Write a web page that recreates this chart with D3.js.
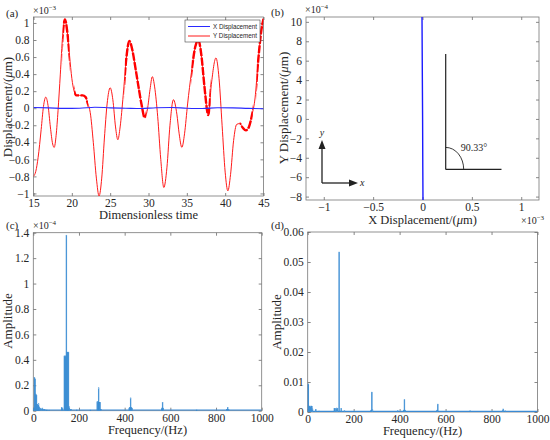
<!DOCTYPE html>
<html>
<head>
<meta charset="utf-8">
<script src="https://cdn.jsdelivr.net/npm/d3@7"></script>
<style>
  body { margin: 0; background: #fff; }
  svg { font-family: "Liberation Serif", "Times New Roman", serif; }
</style>
</head>
<body>
<div id="chart"></div>
<script>
// (a) time series, values in units of 1e-3 um
const timeY = [15.0, 15.3, 15.6, 16.0, 16.3, 16.6, 16.9, 17.2, 17.5, 17.7, 17.95, 18.2, 18.5, 18.8, 19.1, 19.4, 19.7, 20.0, 20.3, 20.6, 21.0, 21.4, 21.8, 22.1, 22.4, 22.8, 23.2, 23.55, 23.9, 24.25, 24.6, 25.0, 25.35, 25.7, 26.0, 26.3, 26.7, 27.1, 27.5, 27.9, 28.3, 28.7, 29.1, 29.5, 29.85, 30.2, 30.5, 30.8, 31.2, 31.6, 32.0, 32.4, 32.8, 33.25, 33.7, 34.0, 34.35, 34.7, 35.1, 35.6, 36.1, 36.5, 36.9, 37.3, 37.8, 38.2, 38.8, 39.2, 39.6, 40.0, 40.35, 40.7, 41.1, 41.5, 41.9, 42.3, 42.7, 43.1, 43.5, 43.9, 44.3, 44.7, 45.0];
const yDisp = [-0.80, -0.74, -0.58, -0.25, 0.02, 0.13, 0.03, -0.22, -0.42, -0.46, -0.32, -0.03, 0.40, 0.85, 1.04, 0.90, 0.62, 0.35, 0.20, 0.15, 0.15, 0.15, 0.13, 0.05, -0.05, -0.40, -0.82, -1.03, -0.82, -0.35, 0.05, 0.24, 0.10, -0.22, -0.37, -0.22, 0.15, 0.58, 0.79, 0.68, 0.47, 0.25, 0.04, -0.11, -0.02, 0.22, 0.37, 0.25, -0.10, -0.60, -0.93, -0.70, -0.20, 0.10, -0.07, -0.30, -0.46, -0.30, 0.05, 0.42, 0.72, 0.80, 0.62, 0.25, -0.08, 0.28, 0.59, 0.35, -0.20, -0.75, -0.97, -0.78, -0.38, -0.19, -0.18, -0.23, -0.26, -0.22, -0.08, 0.12, 0.55, 0.90, 1.05];
const timeX = [15, 17, 19, 21, 23, 25, 27, 29, 31, 33, 35, 37, 39, 41, 43, 45];
const xDisp = [0.008, 0.004, -0.002, 0.0, 0.012, 0.004, 0.0, -0.004, 0.006, 0.008, 0.0, -0.004, 0.006, 0.004, -0.002, -0.006];
// time spans where the Y trace carries a fine ripple (drawn thicker)
const rippleSpans = [[18.8, 19.7], [20.3, 22.1], [26.9, 29.7], [35.6, 38.1], [41.9, 43.6], [44.1, 45]];
const ticksTime = [15, 20, 25, 30, 35, 40, 45];
const ticksDisp = [-1, -0.8, -0.6, -0.4, -0.2, 0, 0.2, 0.4, 0.6, 0.8, 1];

// (b) orbit, x in 1e-3 um, y in 1e-4 um
const orbitX = [0.006, 0.003, 0.001, -0.002, -0.005];
const orbitY = [-10.3, -5, 0, 5, 10.5];
const ticksOrbitX = [-1, -0.5, 0, 0.5, 1];
const ticksOrbitY = [-8, -6, -4, -2, 0, 2, 4, 6, 8, 10];

// (c) spectrum of Y, amplitude in 1e-4
const freqC = [2, 5, 8, 11, 14, 17, 20, 23, 26, 30, 35, 40, 45, 50, 60, 70, 124, 128, 136, 139, 142, 145, 148, 151, 154, 158, 165, 190, 250, 280, 283, 286, 289, 292, 296, 420, 423, 426, 429, 432, 562, 566, 569, 715, 848, 851, 855];
const ampC = [0.02, 0.26, 0.25, 0.13, 0.12, 0.05, 0.045, 0.055, 0.03, 0.02, 0.015, 0.02, 0.01, 0.008, 0.005, 0.004, 0.025, 0.02, 0.43, 0.43, 0.43, 1.38, 0.46, 0.46, 0.46, 0.03, 0.01, 0.005, 0.004, 0.07, 0.07, 0.18, 0.065, 0.065, 0.01, 0.02, 0.025, 0.10, 0.025, 0.02, 0.02, 0.065, 0.02, 0.005, 0.01, 0.025, 0.008];
const ticksFreq = [0, 200, 400, 600, 800, 1000];
const ticksAmpC = [0, 0.2, 0.4, 0.6, 0.8, 1, 1.2, 1.4];

// (d) spectrum of X
const freqD = [1, 3, 6, 9, 12, 15, 18, 21, 35, 50, 116, 120, 126, 130, 137, 146, 160, 200, 276, 279, 282, 392, 419, 421, 424, 563, 566, 707, 848, 851, 860];
const ampD = [0.0093, 0.0093, 0.002, 0.0018, 0.0015, 0.002, 0.0019, 0.001, 0.0008, 0.0003, 0.0012, 0.0012, 0.0013, 0.0012, 0.0533, 0.0012, 0.0004, 0.0002, 0.0006, 0.0066, 0.0007, 0.0004, 0.0006, 0.0041, 0.0006, 0.0006, 0.0026, 0.0004, 0.0004, 0.001, 0.0004];
const ticksAmpD = [0, 0.01, 0.02, 0.03, 0.04, 0.05, 0.06];

const svg = d3.select("#chart").append("svg")
    .attr("width", 550)
    .attr("height", 440);

const fmt = d3.format("~g");
const ink = "#262626";
const serif = "Liberation Serif";

// box with inward ticks on all four sides, MATLAB style
function frame(x, y, xt, yt, id) {
    const [x0, x1] = x.range();
    const [y0, y1] = y.range();
    const g = svg.append("g");
    const axes = [
        g.append("g").attr("transform", `translate(0,${y0})`)
            .call(d3.axisBottom(x).tickValues(xt).tickFormat(fmt).tickSizeInner(-3).tickSizeOuter(0).tickPadding(3)),
        g.append("g").attr("transform", `translate(0,${y1})`)
            .call(d3.axisTop(x).tickValues(xt).tickFormat("").tickSizeInner(-3).tickSizeOuter(0)),
        g.append("g").attr("transform", `translate(${x0},0)`)
            .call(d3.axisLeft(y).tickValues(yt).tickFormat(fmt).tickSizeInner(-3).tickSizeOuter(0).tickPadding(4)),
        g.append("g").attr("transform", `translate(${x1},0)`)
            .call(d3.axisRight(y).tickValues(yt).tickFormat("").tickSizeInner(-3).tickSizeOuter(0))
    ];
    axes.forEach(a => a.attr("font-family", serif).attr("font-size", 11.5));
    g.selectAll(".domain").remove();
    g.selectAll(".tick line").attr("stroke", "#555").attr("stroke-width", 0.7);
    g.selectAll(".tick text").attr("fill", ink);
    g.append("rect")
        .attr("x", x0).attr("y", y1)
        .attr("width", x1 - x0).attr("height", y0 - y1)
        .attr("fill", "none").attr("stroke", "#777").attr("stroke-width", 0.8);
    svg.append("clipPath").attr("id", id).append("rect")
        .attr("x", x0).attr("y", y1).attr("width", x1 - x0).attr("height", y0 - y1);
    return g;
}

function label(x, y, txt, opts = {}) {
    const t = svg.append("text")
        .attr("x", x).attr("y", y)
        .attr("fill", ink)
        .attr("font-family", serif)
        .attr("font-size", opts.size || 13)
        .attr("text-anchor", opts.anchor || "start")
        .text(txt);
    if (opts.rotate) t.attr("transform", `rotate(-90,${x},${y})`);
    return t;
}

function withMu(t, before, after) {
    t.append("tspan").text(before);
    t.append("tspan").attr("font-style", "italic").text("\u03bc");
    t.append("tspan").text(after);
}

function power(x, y, exp) {
    const t = label(x, y, "", { size: 10 });
    t.append("tspan").text("\u00d710");
    t.append("tspan").attr("dy", -4).attr("font-size", 7).text(exp);
}

// ---------- (a) ----------
const xa = d3.scaleLinear().domain([15, 45]).range([33.5, 263.5]);
const ya = d3.scaleLinear().domain([-1.03, 1.07]).range([196, 17]);
frame(xa, ya, ticksTime, ticksDisp, "clipA");

const lineA = d3.line().x(d => xa(d[0])).y(d => ya(d[1])).curve(d3.curveMonotoneX);
const ptsY = timeY.map((t, i) => [t, yDisp[i]]);
const ptsX = timeX.map((t, i) => [t, xDisp[i]]);

const gA = svg.append("g").attr("clip-path", "url(#clipA)");
gA.append("path").attr("d", lineA(ptsY))
    .attr("fill", "none").attr("stroke", "#ff1a1a").attr("stroke-width", 1);
const ripClip = svg.append("clipPath").attr("id", "clipRip");
ripClip.selectAll("rect").data(rippleSpans).enter().append("rect")
    .attr("x", d => xa(d[0])).attr("width", d => xa(d[1]) - xa(d[0]))
    .attr("y", 17).attr("height", 179);
gA.append("path").attr("d", lineA(ptsY))
    .attr("clip-path", "url(#clipRip)")
    .attr("fill", "none").attr("stroke", "#ff0000").attr("stroke-width", 2.4)
    .attr("stroke-dasharray", "8,1.5");
gA.append("path").attr("d", lineA(ptsX))
    .attr("fill", "none").attr("stroke", "#2a2aff").attr("stroke-width", 1.1);

// legend
const leg = svg.append("g").attr("transform", "translate(185,20)");
leg.append("rect").attr("width", 75).attr("height", 22)
    .attr("fill", "#fff").attr("stroke", "#444").attr("stroke-width", 0.6);
[["X Displacement", "#2a2aff"], ["Y Displacement", "#ff1a1a"]].forEach((d, i) => {
    leg.append("line").attr("x1", 3).attr("x2", 25)
        .attr("y1", 6.5 + i * 9.5).attr("y2", 6.5 + i * 9.5)
        .attr("stroke", d[1]).attr("stroke-width", 1);
    leg.append("text").attr("x", 28).attr("y", 8.8 + i * 9.5)
        .attr("font-family", "Liberation Sans").attr("font-size", 6.3)
        .attr("fill", ink).text(d[0]);
});

label(6, 17, "(a)", { size: 11 });
power(33, 14, "\u22123");
label(148.5, 219, "Dimensionless time", { anchor: "middle", size: 12.5 });
withMu(label(12, 107, "", { anchor: "middle", rotate: true }), "Displacement/(", "m)");

// ---------- (b) ----------
const xb = d3.scaleLinear().domain([-1.18, 1.18]).range([306, 539]);
const yb = d3.scaleLinear().domain([-8.35, 10.5]).range([200, 17]);
frame(xb, yb, ticksOrbitX, ticksOrbitY, "clipB");

const lineB = d3.line().x(d => xb(d[0])).y(d => yb(d[1]));
svg.append("g").attr("clip-path", "url(#clipB)")
    .append("path").attr("d", lineB(orbitX.map((v, i) => [v, orbitY[i]])))
    .attr("fill", "none").attr("stroke", "#1a1aff").attr("stroke-width", 1.4);

// angle annotation
const cx = xb(0.235), cy = yb(-5.2);
const ann = svg.append("g").attr("stroke", "#222").attr("fill", "none").attr("stroke-width", 1.2);
ann.append("line").attr("x1", cx).attr("y1", yb(6.7)).attr("x2", cx).attr("y2", cy);
ann.append("line").attr("x1", cx).attr("y1", cy).attr("x2", xb(0.8)).attr("y2", cy);
ann.append("path").attr("stroke-width", 0.9)
    .attr("d", `M${cx},${cy - 22} A18,22 0 0 1 ${cx + 18},${cy}`);
label(474, 151, "90.33\u00b0", { size: 10, anchor: "middle" });

// coordinate arrows
const ox = 322, oy = 183;
const arr = svg.append("g").attr("stroke", "#222").attr("stroke-width", 1.3);
arr.append("line").attr("x1", ox).attr("y1", oy).attr("x2", ox).attr("y2", 148);
arr.append("line").attr("x1", ox).attr("y1", oy).attr("x2", 350).attr("y2", oy);
svg.append("path").attr("fill", "#222")
    .attr("d", `M${ox},140 L${ox - 3.5},149 L${ox + 3.5},149 Z M358,${oy} L349,${oy - 3.5} L349,${oy + 3.5} Z`);
label(322, 136, "y", { size: 10, anchor: "middle" }).attr("font-style", "italic");
label(360, 186, "x", { size: 10 }).attr("font-style", "italic");

label(271, 16, "(b)", { size: 11 });
power(305, 13, "\u22124");
power(521, 224, "\u22123");
withMu(label(422.5, 224, "", { anchor: "middle", size: 12.5 }), "X Displacement/(", "m)");
withMu(label(288, 108, "", { anchor: "middle", rotate: true }), "Y Displacement/(", "m)");

// ---------- spectra ----------
function spectrum(x, y, freqs, amps, id) {
    const g = svg.append("g").attr("clip-path", `url(#${id})`);
    g.append("line")
        .attr("x1", x(0)).attr("x2", x(1000)).attr("y1", y(0) - 0.6).attr("y2", y(0) - 0.6)
        .attr("stroke", "#3b8ad4").attr("stroke-width", 1.2);
    g.selectAll("rect.bar").data(freqs).enter().append("rect")
        .attr("class", "bar")
        .attr("x", d => x(d - 1.5))
        .attr("width", d => x(d + 1.5) - x(d - 1.5))
        .attr("y", (d, i) => y(amps[i]))
        .attr("height", (d, i) => y(0) - y(amps[i]))
        .attr("fill", "#6aaae0").attr("stroke", "#2f86d0").attr("stroke-width", 0.6);
}

// (c)
const xc = d3.scaleLinear().domain([0, 1000]).range([33.3, 261.7]);
const yc = d3.scaleLinear().domain([0, 1.4]).range([410.7, 232.7]);
frame(xc, yc, ticksFreq, ticksAmpC, "clipC");
spectrum(xc, yc, freqC, ampC, "clipC");
label(6, 229, "(c)", { size: 11 });
power(33, 229, "\u22124");
label(147.5, 434, "Frequency/(Hz)", { anchor: "middle", size: 12.5 });
label(12, 321, "Amplitude", { anchor: "middle", rotate: true });

// (d)
const xd = d3.scaleLinear().domain([0, 1000]).range([307.7, 537.5]);
const yd = d3.scaleLinear().domain([0, 0.06]).range([412, 232]);
frame(xd, yd, ticksFreq, ticksAmpD, "clipD");
spectrum(xd, yd, freqD, ampD, "clipD");
label(271, 229, "(d)", { size: 11 });
label(422.5, 435, "Frequency/(Hz)", { anchor: "middle", size: 12.5 });
label(281, 322, "Amplitude", { anchor: "middle", rotate: true });
</script>
</body>
</html>
